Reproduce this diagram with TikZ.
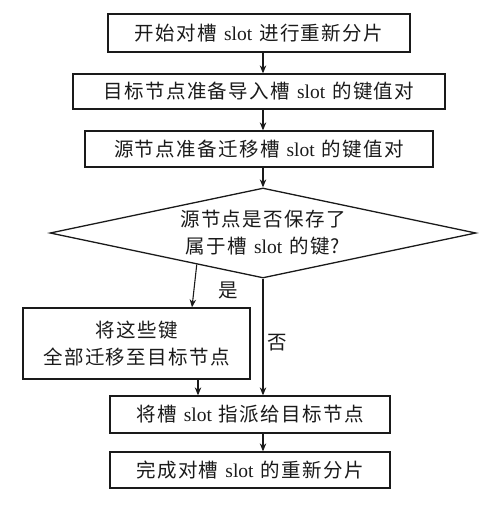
\documentclass[tikz,border=0pt]{standalone}
\usepackage{fontspec}
\setmainfont{Noto Sans CJK SC}[LetterSpace=7]
\newfontfamily\latfont{Liberation Serif}
\newcommand\slt{\hspace{7pt}{\latfont slot}\hspace{7pt}}
\usetikzlibrary{shapes.geometric,arrows.meta,calc}
\definecolor{ink}{HTML}{1A1A1A}
\begin{document}
\begin{tikzpicture}[x=1pt,y=-1pt,
  box/.style={draw=ink, line width=1.3pt, inner sep=0pt, align=center, text=ink,
              font=\fontsize{19.5}{27}\selectfont},
  arr/.style={draw=ink, line width=1.1pt, -{Stealth[length=8pt,width=6.5pt]}},
  lbl/.style={text=ink, font=\fontsize{19.5}{22}\selectfont, inner sep=0pt}]
\useasboundingbox (0,0) rectangle (496,507);
\node[box, minimum width=302pt, minimum height=38pt] (b1) at (259,33) {开始对槽\slt 进行重新分片};
\node[box, minimum width=372pt, minimum height=35pt] (b2) at (259,91.5) {目标节点准备导入槽\slt 的键值对};
\node[box, minimum width=348pt, minimum height=36pt] (b3) at (259,149) {源节点准备迁移槽\slt 的键值对};
\node[box, shape=diamond, aspect=4.73, minimum width=426pt, minimum height=90pt] (dia) at (263,233)
  {源节点是否保存了\\属于槽\slt 的键?};
\node[box, minimum width=227pt, minimum height=71pt] (b4) at (136.5,343.5) {将这些键\\全部迁移至目标节点};
\node[box, minimum width=280pt, minimum height=37pt] (b5) at (250,414.5) {将槽\slt 指派给目标节点};
\node[box, minimum width=280pt, minimum height=36pt] (b6) at (250,470) {完成对槽\slt 的重新分片};
\draw[arr] (b1.south -| dia.north) -- (b2.north -| dia.north);
\draw[arr] (b2.south -| dia.north) -- (b3.north -| dia.north);
\draw[arr] (b3.south -| dia.north) -- (dia.north);
\coordinate (yesfrom) at ($(dia.west)!0.69!(dia.south)$);
\coordinate (yesto) at ($(b4.north)+(55.5pt,0)$);
\draw[arr] (yesfrom) -- (yesto);
\node[lbl] (yes) at (228,290) {是};
\draw[arr] (dia.south) -- (b5.north -| dia.south);
\node[lbl] (no) at (277,343) {否};
\coordinate (b4out) at ($(b4.south)+(61.5pt,0)$);
\draw[arr] (b4out) -- (b4out |- b5.north);
\draw[arr] (b5.south -| dia.south) -- (b6.north -| dia.south);
\end{tikzpicture}
\end{document}
